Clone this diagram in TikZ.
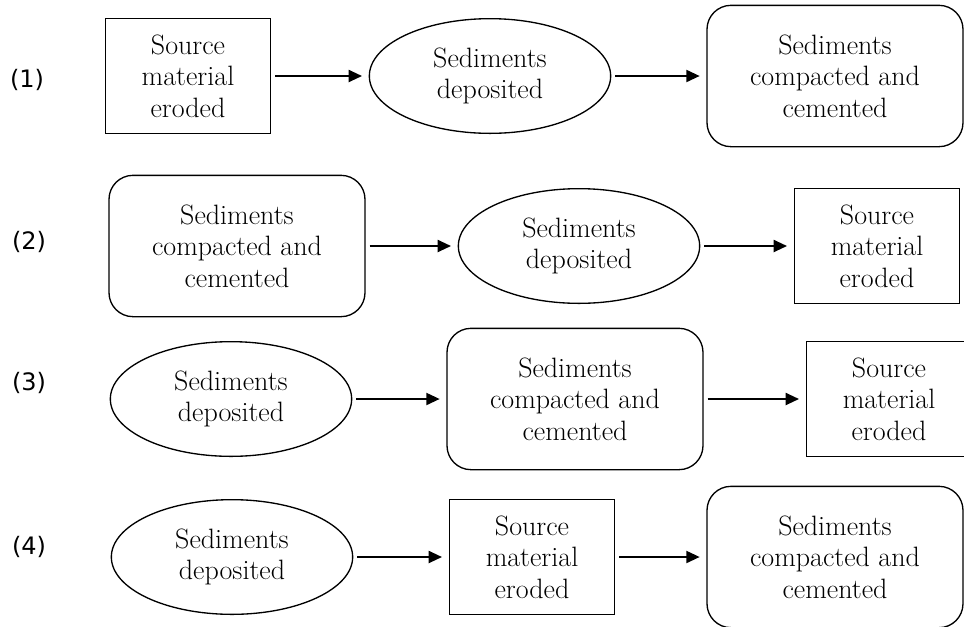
\documentclass[tikz,border=0pt]{standalone}
\usepackage{fontspec}
\newfontfamily\numfont{DejaVu Sans}
\usetikzlibrary{shapes.geometric, arrows.meta}
\tikzset{flowtext/.style = {align=center, font=\fontsize{21}{23.6}\selectfont, draw=black, line width=1pt, inner sep=0pt}}
\tikzset{srcbox/.style = {flowtext, rectangle, minimum width=124pt, minimum height=86pt}}
\tikzset{sedell/.style = {flowtext, ellipse, minimum width=181pt, minimum height=86pt}}
\tikzset{cembox/.style = {flowtext, rectangle, rounded corners=18pt, minimum width=192pt, minimum height=106pt}}
\tikzset{arrow/.style={line width=1.5pt, -{Triangle[length=10pt,width=9pt]}, shorten <=3pt, shorten >=5pt}}
\tikzset{rowlabel/.style={font=\numfont\fontsize{18}{20}\selectfont}}

\begin{document}
\begin{tikzpicture}[x=0.75pt, y=-0.75pt]
	\useasboundingbox (0,0) rectangle (964,626);
	% (1)
	\node[rowlabel] (lab1) at (27,80) {(1)};
	\node[srcbox] (src1) at (188,76) {Source\\material\\eroded};
	\node[sedell] (sed1) at (490,76) {Sediments\\deposited};
	\node[cembox] (cem1) at (835,76) {Sediments\\compacted and\\cemented};
	\draw[arrow] (src1) -- (sed1);
	\draw[arrow] (sed1) -- (cem1);
	% (2)
	\node[rowlabel] (lab2) at (29,242) {(2)};
	\node[cembox] (cem2) at (237,246) {Sediments\\compacted and\\cemented};
	\node[sedell] (sed2) at (579,246) {Sediments\\deposited};
	\node[srcbox] (src2) at (877,246) {Source\\material\\eroded};
	\draw[arrow] (cem2) -- (sed2);
	\draw[arrow] (sed2) -- (src2);
	% (3)
	\node[rowlabel] (lab3) at (29,383) {(3)};
	\node[sedell] (sed3) at (231,399) {Sediments\\deposited};
	\node[cembox] (cem3) at (575,399) {Sediments\\compacted and\\cemented};
	\node[srcbox] (src3) at (889,399) {Source\\material\\eroded};
	\draw[arrow] (sed3) -- (cem3);
	\draw[arrow] (cem3) -- (src3);
	% (4)
	\node[rowlabel] (lab4) at (29,547) {(4)};
	\node[sedell] (sed4) at (232,557) {Sediments\\deposited};
	\node[srcbox] (src4) at (532,557) {Source\\material\\eroded};
	\node[cembox] (cem4) at (835,557) {Sediments\\compacted and\\cemented};
	\draw[arrow] (sed4) -- (src4);
	\draw[arrow] (src4) -- (cem4);
\end{tikzpicture}
\end{document}
